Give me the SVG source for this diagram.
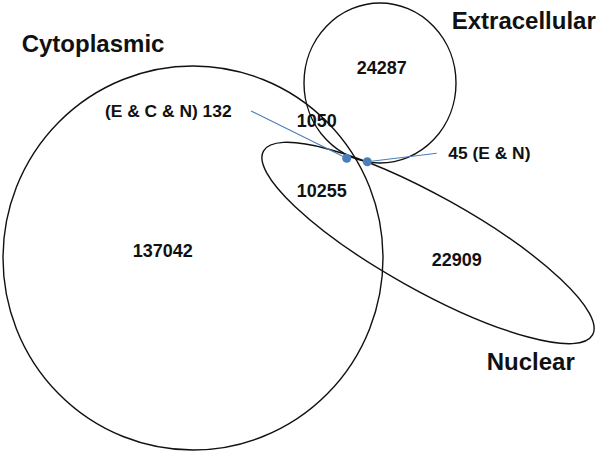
<svg xmlns="http://www.w3.org/2000/svg" width="600" height="453" viewBox="0 0 600 453">
<style>
.set{fill:none;stroke:#111;stroke-width:1.4}
.t{font-family:"Liberation Sans",Arial,sans-serif;font-weight:bold;fill:#111}
.big{font-size:24px}
.num{font-size:18px}
.lbl{font-size:17.4px}
.lead{stroke:#4a7ebb;stroke-width:1.1;fill:none}
.dot{fill:#4a7ebb}
</style>
<rect width="600" height="453" fill="#fff"/>
<g id="cytoplasmic">
<ellipse class="set" cx="193" cy="258" rx="190" ry="192"/>
<text class="t big" x="21.7" y="52">Cytoplasmic</text>
<text class="t num" x="132.7" y="257">137042</text>
</g>
<g id="extracellular">
<ellipse class="set" cx="380" cy="83" rx="76" ry="80"/>
<text class="t big" x="451.7" y="28.5">Extracellular</text>
<text class="t num" x="356.7" y="74">24287</text>
</g>
<g id="nuclear">
<ellipse class="set" cx="428" cy="243" rx="188.5" ry="47" transform="rotate(29.2 428 243)"/>
<text class="t big" x="486.7" y="370">Nuclear</text>
<text class="t num" x="431.7" y="265.5">22909</text>
</g>
<g id="overlaps">
<text class="t num" x="296.7" y="126.7">1050</text>
<text class="t num" x="296.7" y="196.5">10255</text>
<text class="t lbl" x="105" y="116.5">(E &amp; C &amp; N) 132</text>
<text class="t lbl" x="448.3" y="159">45 (E &amp; N)</text>
</g>
<g id="connectors">
<line class="lead" x1="251" y1="111" x2="346.7" y2="158.3"/>
<line class="lead" x1="367.3" y1="161.7" x2="436.7" y2="153.3"/>
<circle class="dot" cx="346.7" cy="158.3" r="4.5"/>
<circle class="dot" cx="367.3" cy="161.7" r="4.5"/>
</g>
</svg>
